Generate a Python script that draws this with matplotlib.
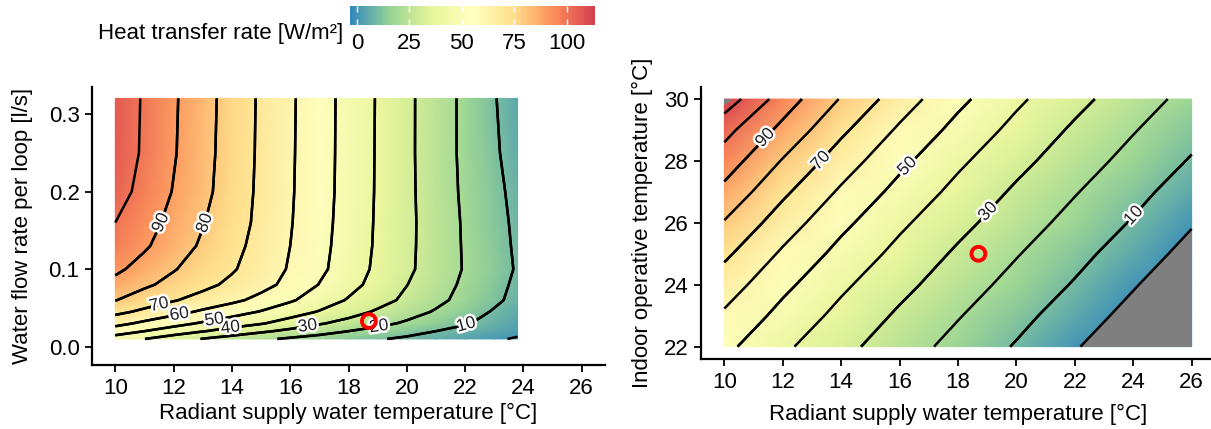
import numpy as np
import matplotlib
matplotlib.use("Agg")
import matplotlib.pyplot as plt
import matplotlib.patheffects as pe
from matplotlib.colors import LinearSegmentedColormap, Normalize

plt.rcParams['font.family'] = ['Liberation Sans', 'DejaVu Sans']

# left panel: supply water temperature vs flow rate per loop
tw_left = [10, 11, 12, 13, 14, 15, 16, 17, 18, 19, 20, 21, 22, 23, 23.8]
flow = [0.01, 0.02, 0.03, 0.045, 0.06, 0.08, 0.10, 0.13, 0.16, 0.20, 0.25, 0.32]
q_left = [
    [45.4, 40.1, 34.8, 29.6, 25.7, 21.8, 18.6, 16.0, 13.4, 10.8, 8.4, 6.0, 3.7, 1.3, -1.0],
    [55.0, 50.0, 45.3, 40.5, 36.0, 31.7, 27.6, 23.8, 20.0, 16.7, 13.4, 10.0, 7.3, 4.5, 2.5],
    [62.9, 58.0, 53.3, 48.8, 44.7, 40.7, 35.9, 30.9, 26.7, 22.6, 18.6, 14.7, 10.8, 6.9, 3.7],
    [72.6, 67.9, 63.2, 58.5, 54.0, 49.4, 44.4, 39.4, 34.0, 28.7, 23.9, 19.1, 14.1, 9.2, 5.3],
    [80.3, 75.3, 70.7, 66.4, 62.2, 57.2, 51.2, 45.2, 39.2, 33.6, 28.0, 22.4, 17.0, 11.7, 7.5],
    [87.0, 81.6, 77.1, 72.6, 67.9, 63.1, 57.3, 49.7, 43.2, 36.7, 30.2, 24.2, 18.3, 12.8, 8.3],
    [92.0, 86.3, 80.6, 75.7, 71.0, 65.2, 59.1, 52.1, 45.0, 38.1, 31.8, 25.5, 19.3, 13.6, 9.2],
    [97.7, 91.3, 84.8, 78.6, 72.9, 66.7, 60.0, 52.9, 45.7, 38.7, 32.1, 25.5, 19.1, 13.3, 8.7],
    [100.0, 93.7, 87.2, 80.5, 74.3, 67.7, 60.6, 53.4, 46.1, 38.9, 32.2, 25.5, 18.9, 13.0, 8.2],
    [104.1, 96.8, 89.5, 82.5, 75.3, 68.1, 61.0, 53.8, 46.5, 39.1, 32.1, 25.1, 18.4, 12.3, 7.4],
    [106.0, 98.6, 90.8, 83.2, 75.8, 68.4, 61.2, 54.0, 46.6, 39.2, 32.0, 24.9, 18.0, 11.3, 6.0],
    [106.5, 98.9, 91.2, 83.6, 76.1, 68.6, 61.4, 54.1, 46.7, 39.3, 32.0, 25.0, 17.9, 10.6, 4.7],
]

# right panel: supply water temperature vs indoor operative temperature
tw_right = [10, 12, 14, 16, 18, 20, 22, 24, 26]
t_op = [22, 23, 24, 25, 26, 27, 28, 29, 30]
q_right = [
    [52.4, 41.8, 32.8, 24.6, 16.8, 9.2, 0.8, -7.5, -15.8],
    [58.5, 46.9, 37.2, 28.5, 20.6, 13.0, 5.0, -3.3, -11.7],
    [65.0, 52.4, 41.8, 32.8, 24.6, 16.8, 9.2, 0.8, -7.5],
    [71.9, 58.5, 46.9, 37.2, 28.5, 20.6, 13.0, 5.0, -3.3],
    [79.3, 65.0, 52.4, 41.8, 32.8, 24.6, 16.8, 9.2, 0.8],
    [87.3, 71.9, 58.5, 46.9, 37.2, 28.5, 20.6, 13.0, 5.0],
    [95.2, 79.3, 65.0, 52.4, 41.8, 32.8, 24.6, 16.8, 9.2],
    [103.1, 87.3, 71.9, 58.5, 46.9, 37.2, 28.5, 20.6, 13.0],
    [116.0, 95.2, 79.3, 65.0, 52.4, 41.8, 32.8, 24.6, 16.8],
]

# design point
point_tw = 18.7
point_flow = 0.033
point_top = 25.0

levels = [0, 10, 20, 30, 40, 50, 60, 70, 80, 90, 100, 110]
q_min, q_max = -3.3, 113.4
cbar_ticks = [0, 25, 50, 75, 100]

spectral = ['#3288BD', '#99D594', '#E6F598', '#FFFFBF', '#FEE08B', '#FC8D59', '#D53E4F']
cmap = LinearSegmentedColormap.from_list('spectral_r', spectral)
norm = Normalize(q_min, q_max)

W, H = 1211, 429
FS = 16
fig = plt.figure(figsize=(W / 100, H / 100), dpi=100)
ax1 = fig.add_axes([92 / W, 1 - 365 / H, 513 / W, 278 / H])
ax2 = fig.add_axes([701 / W, 1 - 359 / H, 514 / W, 272.3 / H])

halo = [pe.withStroke(linewidth=3.5, foreground='white')]


def draw_panel(ax, x, y, z, label_levels, label_pos):
    X, Y = np.meshgrid(x, y)
    Z = np.array(z)
    ax.pcolormesh(X, Y, Z, cmap=cmap, norm=norm, shading='gouraud', zorder=1)
    # values outside the colour scale shown as NA grey
    if Z.min() < q_min or Z.max() > q_max:
        ax.contourf(X, Y, Z, levels=[-1000, 0], colors=['#7F7F7F'], zorder=2)
        ax.contourf(X, Y, Z, levels=[q_max, 1000], colors=['#7F7F7F'], zorder=2)
    ax.contour(X, Y, Z, levels=levels, colors='black', linewidths=1.8, zorder=3)
    cs = ax.contour(X, Y, Z, levels=label_levels, colors='black', linewidths=1.8, zorder=3)
    texts = ax.clabel(cs, manual=label_pos, inline=False, fontsize=12.5, fmt='%d',
                      colors='#222222')
    for t in texts:
        t.set_path_effects(halo)
        t.set_zorder(5)


draw_panel(ax1, tw_left, flow, q_left, [10, 20, 30, 40, 50, 60, 70, 80, 90],
           [(11.6, 0.159), (13.08, 0.159), (11.5, 0.054), (12.2, 0.041), (13.4, 0.034),
            (13.95, 0.024), (16.6, 0.025), (19.05, 0.024), (22.05, 0.026)])
draw_panel(ax2, tw_right, t_op, q_right, [10, 30, 50, 70, 90],
           [(11.5, 28.66), (13.37, 27.95), (16.35, 27.75), (19.09, 26.31), (24.0, 26.25)])

ax1.scatter([point_tw], [point_flow], s=100, facecolors='none', edgecolors='red',
            linewidths=2.8, zorder=6)
ax2.scatter([point_tw], [point_top], s=100, facecolors='none', edgecolors='red',
            linewidths=2.8, zorder=6)

for ax in (ax1, ax2):
    ax.set_xlim(9.2, 26.8)
    ax.set_xticks([10, 12, 14, 16, 18, 20, 22, 24, 26])
    for s in ('top', 'right'):
        ax.spines[s].set_visible(False)
    for s in ('left', 'bottom'):
        ax.spines[s].set_linewidth(1.6)
    ax.tick_params(width=1.3, length=5, labelsize=FS, colors='black', pad=4)

ax1.set_xlabel('Radiant supply water temperature [°C]', fontsize=FS, labelpad=3)
ax2.set_xlabel('Radiant supply water temperature [°C]', fontsize=FS, labelpad=8)

ax1.set_ylim(-0.0236, 0.3347)
ax1.set_yticks([0.0, 0.1, 0.2, 0.3])
ax1.set_yticklabels(['0.0', '0.1', '0.2', '0.3'])
ax1.set_ylabel('Water flow rate per loop [l/s]', fontsize=FS, labelpad=11)

ax2.set_ylim(21.6, 30.4)
ax2.set_yticks([22, 24, 26, 28, 30])
ax2.set_ylabel('Indoor operative temperature [°C]', fontsize=FS, labelpad=8)

# colour bar legend on top
cax = fig.add_axes([350 / W, 1 - 25 / H, 245 / W, 19 / H])
sm = plt.cm.ScalarMappable(norm=norm, cmap=cmap)
cb = fig.colorbar(sm, cax=cax, orientation='horizontal', ticks=cbar_ticks)
cb.outline.set_visible(False)
cax.tick_params(axis='x', direction='in', color='white', length=4, width=1,
                top=True, bottom=True, labelcolor='black', labelsize=FS, pad=6)
fig.text(343 / W, 1 - 33 / H, 'Heat transfer rate [W/m²]', ha='right', va='center',
         fontsize=FS)

fig.savefig('out.png', dpi=100)
